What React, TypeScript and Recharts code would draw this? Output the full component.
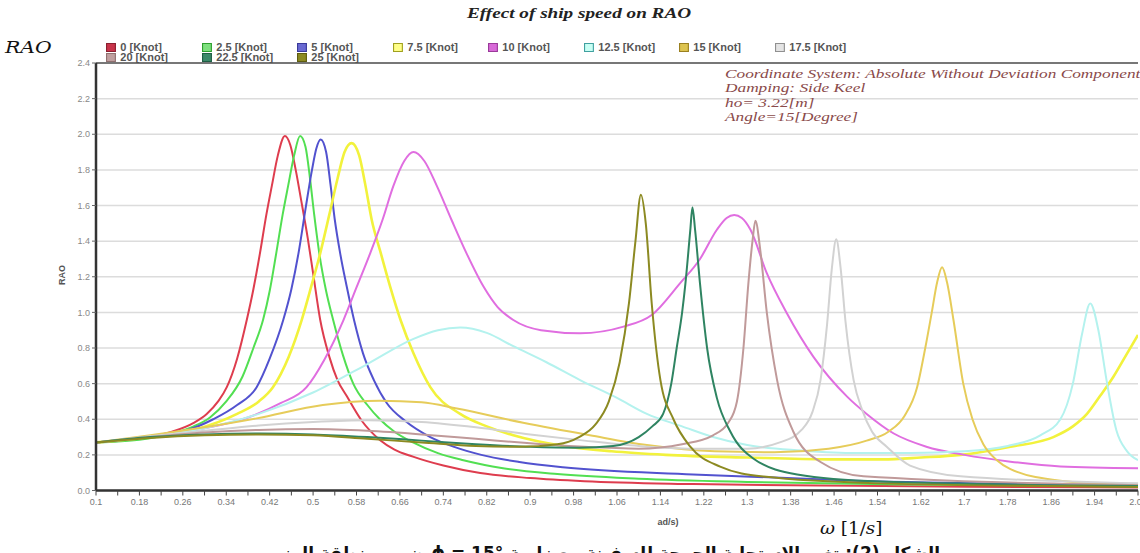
import React from 'react';
import { LineChart, Line, XAxis, YAxis, CartesianGrid, ReferenceLine } from 'recharts';

type P = [number, number];

const speeds = ['0', '2.5', '5', '7.5', '10', '12.5', '15', '17.5', '20', '22.5', '25'];
const colors = ['#de3d4e', '#52df52', '#5252cf', '#f2f23c', '#e06ee0', '#b4f2ee', '#e6cc5a', '#d2d2d2', '#c09a9a', '#2f8462', '#8c8a22'];
const legendFill = ['#c8344a', '#7ee07e', '#6a6ad2', '#ffff88', '#d86ad8', '#c8fff4', '#ddc450', '#e4e4e4', '#c0a0a0', '#3c8a6a', '#8c8a22'];
const legendBorder = ['#8a2030', '#2e9e2e', '#3a3a9a', '#a0a020', '#9a3a9a', '#40a0a0', '#9a8020', '#909090', '#907070', '#1e5e44', '#5e5c10'];

const s0: P[] = [[0.1,0.27],[0.18,0.29],[0.24,0.33],[0.28,0.38],[0.304,0.43],[0.325,0.5],[0.341,0.58],[0.36,0.74],[0.378,0.96],[0.39,1.13],[0.402,1.33],[0.414,1.55],[0.424,1.71],[0.435,1.88],[0.448,1.99],[0.458,1.94],[0.468,1.8],[0.478,1.63],[0.49,1.42],[0.5,1.22],[0.513,0.96],[0.53,0.75],[0.545,0.62],[0.562,0.53],[0.59,0.39],[0.623,0.284],[0.65,0.23],[0.684,0.19],[0.74,0.14],[0.808,0.098],[0.9,0.07],[1.0,0.052],[1.2,0.036],[1.5,0.026],[1.8,0.02],[2.02,0.017]];
const s25: P[] = [[0.1,0.27],[0.18,0.285],[0.24,0.32],[0.28,0.36],[0.31,0.41],[0.34,0.5],[0.37,0.64],[0.39,0.8],[0.408,0.96],[0.42,1.12],[0.432,1.33],[0.444,1.55],[0.454,1.71],[0.465,1.88],[0.476,1.99],[0.486,1.93],[0.494,1.76],[0.502,1.55],[0.512,1.32],[0.524,1.12],[0.537,0.957],[0.555,0.76],[0.574,0.6],[0.6,0.48],[0.623,0.4],[0.65,0.33],[0.684,0.27],[0.73,0.21],[0.777,0.17],[0.85,0.125],[0.95,0.092],[1.1,0.066],[1.3,0.048],[1.6,0.034],[2.02,0.024]];
const s5: P[] = [[0.1,0.27],[0.2,0.3],[0.26,0.33],[0.316,0.4],[0.36,0.48],[0.396,0.58],[0.42,0.74],[0.445,0.957],[0.46,1.13],[0.473,1.33],[0.486,1.58],[0.498,1.8],[0.506,1.92],[0.514,1.97],[0.524,1.9],[0.532,1.72],[0.54,1.52],[0.55,1.33],[0.562,1.145],[0.576,0.95],[0.592,0.77],[0.612,0.62],[0.636,0.49],[0.67,0.39],[0.716,0.3],[0.76,0.245],[0.81,0.2],[0.88,0.16],[0.96,0.13],[1.2,0.09],[1.5,0.055],[2.02,0.03]];
const s75: P[] = [[0.1,0.27],[0.2,0.3],[0.28,0.34],[0.36,0.43],[0.4,0.5],[0.426,0.58],[0.455,0.75],[0.479,0.957],[0.497,1.15],[0.513,1.33],[0.53,1.55],[0.545,1.75],[0.558,1.9],[0.571,1.95],[0.585,1.88],[0.596,1.72],[0.608,1.52],[0.625,1.33],[0.642,1.145],[0.662,0.95],[0.685,0.77],[0.716,0.58],[0.771,0.43],[0.82,0.36],[0.869,0.31],[0.961,0.25],[1.05,0.22],[1.15,0.2],[1.3,0.185],[1.45,0.175],[1.55,0.175],[1.62,0.185],[1.693,0.2],[1.785,0.246],[1.864,0.3],[1.9,0.36],[1.926,0.43],[1.95,0.53],[1.975,0.64],[2.0,0.77],[2.02,0.873]];
const s10: P[] = [[0.1,0.27],[0.2,0.305],[0.3,0.35],[0.38,0.41],[0.44,0.49],[0.488,0.58],[0.52,0.73],[0.556,0.957],[0.58,1.14],[0.605,1.33],[0.628,1.52],[0.648,1.71],[0.668,1.85],[0.685,1.9],[0.705,1.85],[0.728,1.71],[0.755,1.52],[0.783,1.33],[0.814,1.145],[0.84,1.03],[0.869,0.957],[0.92,0.9],[0.992,0.883],[1.072,0.92],[1.124,0.985],[1.176,1.163],[1.213,1.3],[1.244,1.464],[1.262,1.53],[1.276,1.547],[1.29,1.53],[1.306,1.464],[1.336,1.22],[1.373,0.995],[1.422,0.75],[1.484,0.527],[1.52,0.43],[1.57,0.32],[1.63,0.246],[1.7,0.2],[1.785,0.162],[1.877,0.135],[2.02,0.125]];
const s125: P[] = [[0.1,0.27],[0.2,0.305],[0.3,0.35],[0.4,0.43],[0.5,0.55],[0.6,0.71],[0.684,0.85],[0.73,0.9],[0.771,0.915],[0.82,0.885],[0.869,0.81],[0.93,0.72],[0.992,0.62],[1.06,0.52],[1.115,0.43],[1.18,0.36],[1.237,0.3],[1.3,0.255],[1.4,0.225],[1.5,0.21],[1.6,0.21],[1.7,0.22],[1.78,0.25],[1.84,0.31],[1.877,0.4],[1.9,0.6],[1.917,0.88],[1.932,1.05],[1.947,0.9],[1.962,0.62],[1.98,0.34],[2.0,0.22],[2.02,0.17]];
const s15: P[] = [[0.1,0.27],[0.2,0.31],[0.3,0.355],[0.396,0.405],[0.518,0.48],[0.623,0.504],[0.7,0.495],[0.765,0.46],[0.887,0.38],[1.01,0.31],[1.115,0.255],[1.24,0.22],[1.35,0.215],[1.45,0.235],[1.52,0.28],[1.56,0.33],[1.59,0.42],[1.613,0.58],[1.628,0.8],[1.64,1.0],[1.65,1.17],[1.659,1.253],[1.668,1.17],[1.68,0.957],[1.698,0.6],[1.715,0.4],[1.735,0.26],[1.76,0.17],[1.785,0.12],[1.877,0.055],[2.02,0.03]];
const s175: P[] = [[0.1,0.27],[0.2,0.305],[0.3,0.335],[0.4,0.365],[0.5,0.385],[0.6,0.395],[0.7,0.385],[0.8,0.355],[0.9,0.315],[1.0,0.28],[1.1,0.25],[1.2,0.235],[1.3,0.235],[1.36,0.27],[1.4,0.34],[1.42,0.44],[1.435,0.62],[1.447,0.93],[1.456,1.25],[1.464,1.41],[1.472,1.25],[1.481,0.95],[1.496,0.62],[1.512,0.45],[1.53,0.33],[1.557,0.246],[1.6,0.14],[1.693,0.08],[2.02,0.04]];
const s20: P[] = [[0.1,0.27],[0.2,0.3],[0.3,0.325],[0.4,0.34],[0.5,0.345],[0.6,0.335],[0.7,0.315],[0.8,0.29],[0.9,0.265],[1.0,0.245],[1.1,0.235],[1.18,0.26],[1.237,0.31],[1.265,0.38],[1.281,0.5],[1.293,0.8],[1.302,1.16],[1.31,1.41],[1.315,1.515],[1.324,1.35],[1.336,1.0],[1.355,0.62],[1.385,0.33],[1.435,0.16],[1.514,0.08],[2.02,0.03]];
const s225: P[] = [[0.1,0.27],[0.2,0.3],[0.3,0.315],[0.4,0.32],[0.5,0.315],[0.6,0.3],[0.7,0.28],[0.8,0.26],[0.9,0.245],[0.99,0.24],[1.053,0.25],[1.1,0.3],[1.125,0.36],[1.145,0.43],[1.16,0.6],[1.17,0.8],[1.18,1.0],[1.186,1.16],[1.195,1.46],[1.199,1.59],[1.204,1.46],[1.213,1.16],[1.226,0.8],[1.244,0.52],[1.269,0.33],[1.311,0.18],[1.392,0.09],[1.545,0.05],[2.02,0.025]];
const s25k: P[] = [[0.1,0.27],[0.2,0.295],[0.3,0.31],[0.4,0.315],[0.5,0.31],[0.6,0.29],[0.7,0.27],[0.8,0.25],[0.88,0.245],[0.95,0.26],[0.99,0.3],[1.02,0.37],[1.045,0.5],[1.065,0.72],[1.082,1.05],[1.094,1.4],[1.104,1.66],[1.113,1.5],[1.124,1.05],[1.14,0.62],[1.164,0.4],[1.195,0.246],[1.25,0.134],[1.33,0.078],[1.545,0.04],[2.02,0.02]];

const seriesData: P[][] = [s0, s25, s5, s75, s10, s125, s15, s175, s20, s225, s25k];

const xMajor = [0.1,0.18,0.26,0.34,0.42,0.5,0.58,0.66,0.74,0.82,0.9,0.98,1.06,1.14,1.22,1.3,1.38,1.46,1.54,1.62,1.7,1.78,1.86,1.94,2.02];
const xLabels = ['0.1','0.18','0.26','0.34','0.42','0.5','0.58','0.66','0.74','0.82','0.9','0.98','1.06','1.14','1.22','1.3','1.38','1.46','1.54','1.62','1.7','1.78','1.86','1.94','2.02'];
const xMinor = [0.14,0.22,0.3,0.38,0.46,0.54,0.62,0.7,0.78,0.86,0.94,1.02,1.1,1.18,1.26,1.34,1.42,1.5,1.58,1.66,1.74,1.82,1.9,1.98];
const yTicks = [0,0.2,0.4,0.6,0.8,1.0,1.2,1.4,1.6,1.8,2.0,2.2,2.4];
const yLabels = ['0.0','0.2','0.4','0.6','0.8','1.0','1.2','1.4','1.6','1.8','2.0','2.2','2.4'];

const notes = ['Coordinate System: Absolute Without Deviation Component', 'Damping: Side Keel', 'ho= 3.22[m]', 'Angle=15[Degree]'];

const allXTicks = [...xMajor, ...xMinor].sort((a, b) => a - b);

const fmtX = (v: number) => {
  const i = xMajor.findIndex((m) => Math.abs(m - v) < 1e-6);
  return i >= 0 ? xLabels[i] : '';
};
const fmtY = (v: number) => {
  const i = yTicks.findIndex((m) => Math.abs(m - v) < 1e-6);
  return i >= 0 ? yLabels[i] : '';
};

const serif = '"Liberation Serif", "Times New Roman", serif';

export default function App() {
  const lines = seriesData.map((d) => d.map(([x, y]) => ({ x, y })));
  return (
    <div style={{ position: 'fixed', left: 0, top: 0, width: 1140, height: 553, overflow: 'hidden', background: '#fff', fontFamily: 'Arial, "Liberation Sans", sans-serif' }}>
      <div style={{ position: 'absolute', left: 0, top: 0 }}>
        <LineChart width={1140} height={553} margin={{ top: 63, right: 2, bottom: 37.5, left: 0 }}>
          <CartesianGrid vertical={false} stroke="#dcdcdc" strokeWidth={1.5} />
          <XAxis
            dataKey="x"
            type="number"
            domain={[0.1, 2.02]}
            ticks={allXTicks}
            interval={0}
            tickFormatter={fmtX}
            height={25}
            tickSize={5}
            tickMargin={3}
            allowDataOverflow
            axisLine={{ stroke: '#333', strokeWidth: 2.5 }}
            tickLine={{ stroke: '#444' }}
            tick={{ fontSize: 9, fill: '#777' }}
          />
          <YAxis
            type="number"
            domain={[0, 2.4]}
            ticks={yTicks}
            interval={0}
            tickFormatter={fmtY}
            width={96}
            tickSize={4}
            axisLine={{ stroke: '#333', strokeWidth: 2.5 }}
            tickLine={{ stroke: '#666' }}
            tick={{ fontSize: 9, fill: '#888' }}
          />
          <ReferenceLine y={2.4} stroke="#777" strokeWidth={2} />
          {lines.map((d, i) => (
            <Line
              key={speeds[i]}
              data={d}
              dataKey="y"
              type="monotone"
              dot={false}
              activeDot={false}
              stroke={colors[i]}
              strokeWidth={i === 3 ? 2.6 : 2}
              isAnimationActive={false}
            />
          ))}
        </LineChart>
      </div>

      <div style={{ position: 'absolute', left: 579, top: 5, transform: 'translateX(-50%) scaleX(1.28)', whiteSpace: 'nowrap', fontFamily: serif, fontStyle: 'italic', fontWeight: 'bold', fontSize: 15, color: '#222' }}>
        Effect of ship speed on RAO
      </div>

      <div style={{ position: 'absolute', left: 5, top: 37, transform: 'scaleX(1.2)', transformOrigin: 'left center', fontFamily: '"DejaVu Serif", serif', fontStyle: 'italic', fontSize: 17, color: '#111' }}>RAO</div>

      {speeds.map((s, i) => {
        const row = i < 8 ? 0 : 1;
        const col = i < 8 ? i : i - 8;
        return (
          <div key={s} style={{ position: 'absolute', left: 106 + col * 95.5, top: row === 0 ? 42 : 52, display: 'flex', alignItems: 'center', whiteSpace: 'nowrap', fontSize: 10, fontWeight: 'bold', color: '#555', transform: 'scaleX(1.1)', transformOrigin: 'left center' }}>
            <span style={{ display: 'inline-block', width: 7, height: 7, background: legendFill[i], border: `1px solid ${legendBorder[i]}`, marginRight: 4 }} />
            {s} [Knot]
          </div>
        );
      })}

      {notes.map((t, i) => (
        <div key={t} style={{ position: 'absolute', left: 725, top: 66 + i * 14.3, whiteSpace: 'nowrap', fontFamily: serif, fontStyle: 'italic', fontSize: 13, color: '#8a4a4a', transform: 'scaleX(1.33)', transformOrigin: 'left center' }}>{t}</div>
      ))}

      <div style={{ position: 'absolute', left: 62, top: 275, transform: 'translate(-50%, -50%) rotate(-90deg)', fontSize: 9, fontWeight: 'bold', color: '#555' }}>RAO</div>
      <div style={{ position: 'absolute', left: 668, top: 517, transform: 'translateX(-50%)', fontSize: 9, fontWeight: 'bold', color: '#555' }}>ad/s)</div>

      <div style={{ position: 'absolute', left: 820, top: 518, whiteSpace: 'nowrap', fontFamily: '"DejaVu Serif", serif', fontSize: 17, color: '#111', transform: 'scaleX(1.08)', transformOrigin: 'left center' }}>
        <i>ω</i> [1/<i>s</i>]
      </div>

      <div dir="rtl" style={{ position: 'absolute', right: 200, top: 543, whiteSpace: 'nowrap', fontFamily: '"DejaVu Sans", sans-serif', fontWeight: 'bold', fontSize: 17, color: '#111' }}>
        الشكل (2): تغير الاستجابة الحرجة للسفينة مع زاوية °15 = ϕ ضمن منطقة الرنين
      </div>
    </div>
  );
}
